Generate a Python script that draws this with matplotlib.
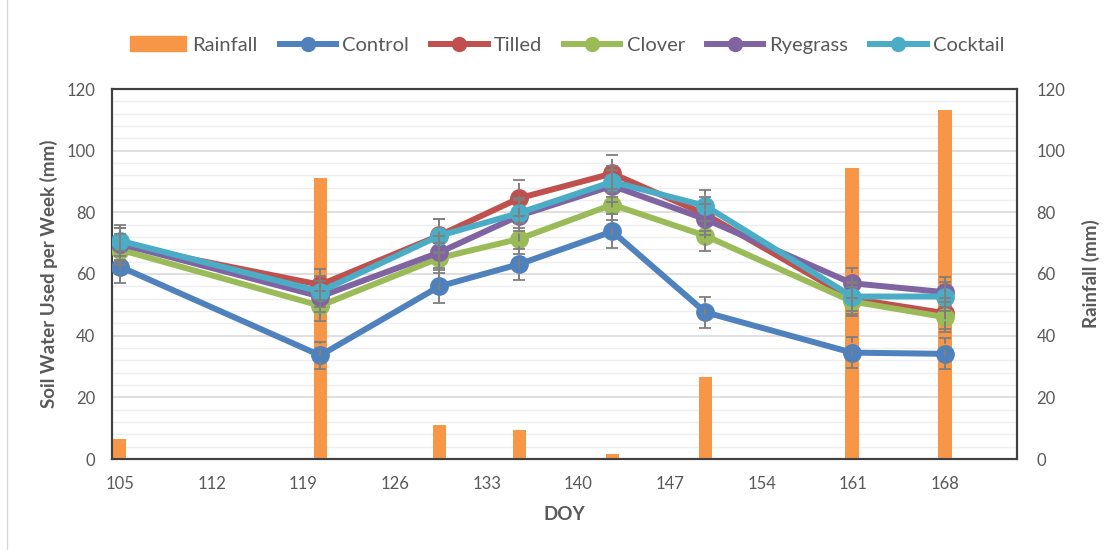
import matplotlib
matplotlib.use("Agg")
import matplotlib.pyplot as plt
from matplotlib.patches import Patch
from matplotlib.lines import Line2D

doy = [105, 120.3, 129.4, 135.5, 142.6, 149.7, 160.9, 168]
rainfall = [6.5, 91, 11.0, 9.4, 1.6, 26.7, 94.4, 113.1]

control = [62.4, 33.6, 56.0, 63.2, 73.8, 47.6, 34.5, 34.1]
tilled = [69.5, 56.5, 72.5, 84.6, 92.6, 79.4, 52.0, 47.3]
clover = [67.9, 49.7, 65.2, 71.4, 82.5, 72.4, 51.1, 46.0]
ryegrass = [69.8, 52.7, 67.0, 78.9, 88.6, 77.8, 57.0, 54.1]
cocktail = [70.8, 54.3, 72.4, 79.8, 89.9, 82.1, 52.7, 52.7]

control_err = [5.2, 4.5, 5.3, 5.0, 5.5, 5.0, 5.0, 5.0]
tilled_err = [5.5, 5.0, 5.5, 5.8, 6.0, 5.5, 5.0, 5.0]
clover_err = [5.0, 4.8, 5.0, 5.0, 5.0, 4.8, 4.8, 4.8]
ryegrass_err = [5.2, 5.0, 5.2, 5.0, 5.2, 5.0, 4.8, 4.8]
cocktail_err = [5.0, 5.0, 5.5, 5.0, 5.0, 5.0, 4.8, 4.8]

series_names = ["Control", "Tilled", "Clover", "Ryegrass", "Cocktail"]
series_vals = [control, tilled, clover, ryegrass, cocktail]
series_errs = [control_err, tilled_err, clover_err, ryegrass_err, cocktail_err]
colors = ["#4F81BD", "#C0504D", "#9BBB59", "#8064A2", "#4BACC6"]
rain_color = "#F79646"

yticks = [0, 20, 40, 60, 80, 100, 120]
xticks = [105, 112, 119, 126, 133, 140, 147, 154, 161, 168]

plt.rcParams['font.family'] = ['Lato', 'DejaVu Sans']
tick_color = "#595959"

fig = plt.figure(figsize=(11.13, 5.5), dpi=100)
ax = fig.add_axes([112/1113, 1-459/550, (1017-112)/1113, (459-89)/550])
ax2 = ax.twinx()
ax.set_zorder(ax2.get_zorder() + 1)
ax.patch.set_visible(False)

# Rainfall bars on secondary axis
ax2.bar(doy, rainfall, width=1.0, color=rain_color, zorder=3)
ax2.set_ylim(0, 120)
ax2.set_yticks(yticks)
ax2.yaxis.set_minor_locator(matplotlib.ticker.MultipleLocator(4))
ax2.grid(True, which='major', axis='y', color='#d9d9d9', linewidth=1.2, zorder=0)
ax2.grid(True, which='minor', axis='y', color='#eeeeee', linewidth=1.0, zorder=0)
ax2.set_axisbelow(True)
ax2.tick_params(axis='y', which='both', length=0, labelsize=12, colors=tick_color, pad=14)
ax2.set_ylabel("Rainfall (mm)", fontsize=13.5, fontweight='bold', color=tick_color, labelpad=12)

# Lines
for name, vals, errs, c in zip(series_names, series_vals, series_errs, colors):
    ax.plot(doy, vals, color=c, linewidth=4.3, marker='o', markersize=12.5,
            markeredgecolor=c, zorder=3, solid_capstyle='round')
for name, vals, errs, c in zip(series_names, series_vals, series_errs, colors):
    eb = ax.errorbar(doy, vals, yerr=errs, fmt='none', ecolor='#7f7f7f',
                     elinewidth=1.4, capsize=4, capthick=1.3, zorder=5)
    for lc in eb[2]:
        lc.set_linestyle((0, (4, 2.5)))

ax.set_xlim(104.4, 173.5)
ax.set_ylim(0, 120)
ax.set_xticks(xticks)
ax.set_yticks(yticks)
ax.tick_params(axis='both', length=0, labelsize=12, colors=tick_color)
ax.tick_params(axis='x', pad=12)
ax.tick_params(axis='y', pad=12)
ax.set_xlabel("DOY", fontsize=13.5, fontweight='bold', color=tick_color, labelpad=10)
ax.set_ylabel("Soil Water Used per Week (mm)", fontsize=13.5, fontweight='bold',
              color=tick_color, labelpad=6)

for a in (ax, ax2):
    for s in a.spines.values():
        s.set_color('#404040')
        s.set_linewidth(1.5)

handles = [Patch(facecolor=rain_color, edgecolor=rain_color)]
for c in colors:
    handles.append(Line2D([0], [0], color=c, linewidth=4.3, marker='o', markersize=10))
labels = ["Rainfall"] + series_names
fig.legend(handles, labels, loc='center', bbox_to_anchor=(567/1113, 1-45/550), ncol=6,
           frameon=False, fontsize=14.5, handlelength=2.8, handletextpad=0.3,
           columnspacing=1.1, labelcolor=tick_color)

# light chart border on the left
fig.add_artist(Line2D([7/1113, 7/1113], [0, 1], color='#d9d9d9', linewidth=1,
                      transform=fig.transFigure))

fig.savefig("out.png", dpi=100)
